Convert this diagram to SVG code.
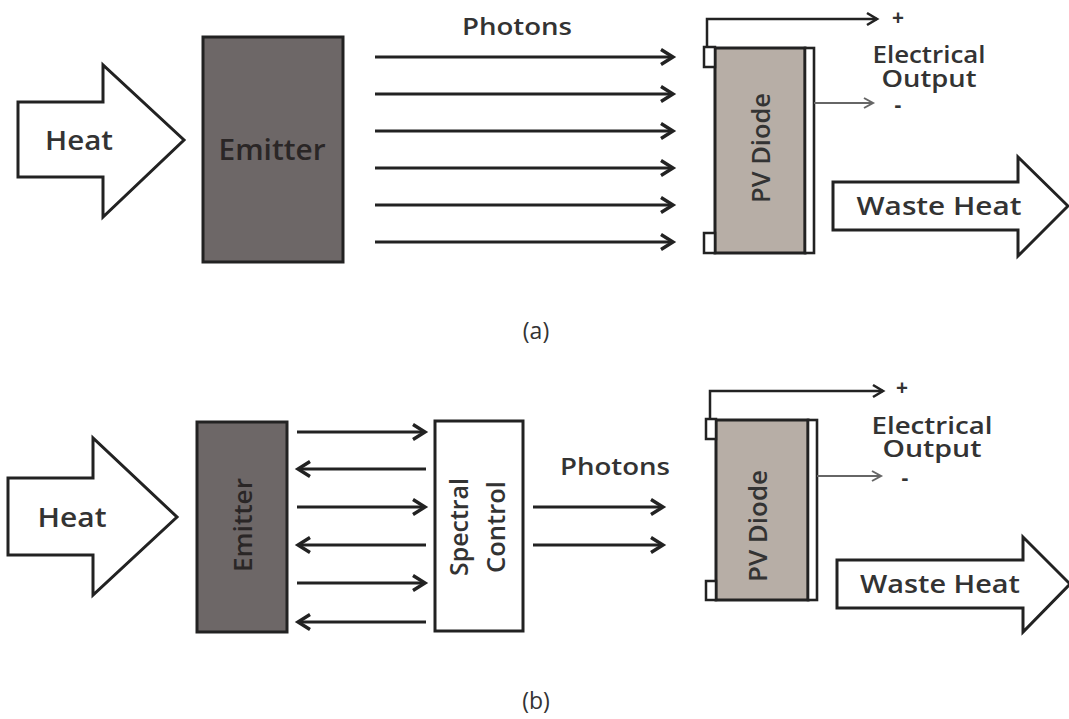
<svg xmlns="http://www.w3.org/2000/svg" width="1069" height="719" viewBox="0 0 1069 719">
<defs>
<marker id="ah" markerUnits="userSpaceOnUse" markerWidth="20" markerHeight="20" refX="14" refY="10" orient="auto">
<path d="M2,2.5 L14,10 L2,17.5" fill="none" stroke="#222" stroke-width="3.4" stroke-linejoin="miter"/>
</marker>
<marker id="ahs" markerUnits="userSpaceOnUse" markerWidth="20" markerHeight="20" refX="14" refY="10" orient="auto">
<path d="M5,5 L14,10 L5,15" fill="none" stroke="#666" stroke-width="2"/>
</marker>
<marker id="ahw" markerUnits="userSpaceOnUse" markerWidth="20" markerHeight="20" refX="14" refY="10" orient="auto">
<path d="M4,4 L14,10 L4,16" fill="none" stroke="#222" stroke-width="2.6"/>
</marker>
</defs>
<style>
.big{fill:#fff;stroke:#222;stroke-width:3;stroke-linejoin:miter}
.emit{fill:#6d6767;stroke:#222;stroke-width:3}
.pv{fill:#b7aea6;stroke:#222;stroke-width:3}
.strip{fill:#fff;stroke:#222;stroke-width:2.6}
.tab{fill:#fff;stroke:#222;stroke-width:2.5}
.ph{stroke:#222;stroke-width:3.2;fill:none;marker-end:url(#ah)}
.wire{stroke:#222;stroke-width:2.5;fill:none;marker-end:url(#ahw)}
.neg{stroke:#666;stroke-width:1.8;fill:none;marker-end:url(#ahs)}
text{font-family:"Open Sans","Liberation Sans",sans-serif;font-weight:600;fill:#333}
.cap{font-weight:400;font-size:23px;fill:#333}
.sign{font-size:21px;font-weight:700}
</style>
<rect width="1069" height="719" fill="#fff"/>

<!-- (a) -->
<g id="heat-a">
<polygon class="big" points="18,102 103,102 103,65 184,140 103,217 103,177 18,177"/>
<text x="79" y="150" font-size="27" text-anchor="middle" textLength="68" lengthAdjust="spacingAndGlyphs">Heat</text>
</g>
<g id="emitter-a">
<rect class="emit" x="203" y="37" width="140" height="225"/>
<text x="272" y="160" font-size="28" text-anchor="middle" textLength="107" lengthAdjust="spacingAndGlyphs" style="fill:#2a2626">Emitter</text>
</g>
<g id="photons-label-a">
<text x="517" y="35" font-size="24" text-anchor="middle" textLength="110" lengthAdjust="spacingAndGlyphs">Photons</text>
</g>
<g id="pv-a">
<rect class="pv" x="715" y="48" width="90" height="205"/>
<rect class="strip" x="805" y="48" width="9" height="205"/>
<rect class="tab" x="704" y="47" width="11" height="20"/>
<rect class="tab" x="704" y="233" width="11" height="20"/>
<text transform="translate(770,148) rotate(-90)" font-size="26" text-anchor="middle" textLength="110" lengthAdjust="spacingAndGlyphs">PV Diode</text>
</g>
<g id="output-a">
<text class="sign" x="898" y="25" text-anchor="middle">+</text>
<text font-size="23" text-anchor="middle"><tspan x="929" y="63" textLength="113" lengthAdjust="spacingAndGlyphs">Electrical</tspan><tspan x="929" y="87" textLength="95" lengthAdjust="spacingAndGlyphs">Output</tspan></text>
<text class="sign" x="898" y="112" text-anchor="middle">-</text>
</g>
<g id="waste-a">
<polygon class="big" points="833,182 1018,182 1018,157 1068,206 1018,256 1018,230 833,230"/>
<text x="939" y="215" font-size="25" text-anchor="middle" textLength="165" lengthAdjust="spacingAndGlyphs">Waste Heat</text>
</g>
<g id="caption-a"><text class="cap" x="536" y="339" text-anchor="middle">(a)</text></g>

<!-- (b) -->
<g id="heat-b">
<polygon class="big" points="8,478 93,478 93,438 177,517 93,595 93,555 8,555"/>
<text x="72" y="527" font-size="27" text-anchor="middle" textLength="69" lengthAdjust="spacingAndGlyphs">Heat</text>
</g>
<g id="emitter-b">
<rect class="emit" x="197" y="422" width="90" height="210"/>
<text transform="translate(252,525) rotate(-90)" font-size="26" text-anchor="middle" textLength="94" lengthAdjust="spacingAndGlyphs" style="fill:#2a2626">Emitter</text>
</g>
<g id="spectral-b">
<rect class="big" x="435" y="421" width="88" height="210"/>
<text transform="translate(468,527) rotate(-90)" font-size="26" text-anchor="middle" textLength="98" lengthAdjust="spacingAndGlyphs">Spectral</text>
<text transform="translate(505,527) rotate(-90)" font-size="26" text-anchor="middle" textLength="92" lengthAdjust="spacingAndGlyphs">Control</text>
</g>
<g id="photons-label-b">
<text x="615" y="475" font-size="24" text-anchor="middle" textLength="110" lengthAdjust="spacingAndGlyphs">Photons</text>
</g>
<g id="pv-b">
<rect class="pv" x="716" y="420" width="92" height="180"/>
<rect class="strip" x="808" y="420" width="9" height="180"/>
<rect class="tab" x="706" y="419" width="10" height="20"/>
<rect class="tab" x="706" y="581" width="10" height="19"/>
<text transform="translate(767,526) rotate(-90)" font-size="26" text-anchor="middle" textLength="112" lengthAdjust="spacingAndGlyphs">PV Diode</text>
</g>
<g id="output-b">
<text class="sign" x="902" y="395" text-anchor="middle">+</text>
<text font-size="23" text-anchor="middle"><tspan x="932" y="434" textLength="121" lengthAdjust="spacingAndGlyphs">Electrical</tspan><tspan x="932" y="457" textLength="99" lengthAdjust="spacingAndGlyphs">Output</tspan></text>
<text class="sign" x="905" y="485" text-anchor="middle">-</text>
</g>
<g id="waste-b">
<polygon class="big" points="837,560 1023,560 1023,537 1070,584 1023,632 1023,608 837,608"/>
<text x="940" y="593" font-size="25" text-anchor="middle" textLength="160" lengthAdjust="spacingAndGlyphs">Waste Heat</text>
</g>
<g id="caption-b"><text class="cap" x="536" y="709" text-anchor="middle">(b)</text></g>

<g id="connectors">
<line class="ph" x1="375" y1="57" x2="673" y2="57"/>
<line class="ph" x1="375" y1="94" x2="673" y2="94"/>
<line class="ph" x1="375" y1="131" x2="673" y2="131"/>
<line class="ph" x1="375" y1="168" x2="673" y2="168"/>
<line class="ph" x1="375" y1="205" x2="673" y2="205"/>
<line class="ph" x1="375" y1="242" x2="673" y2="242"/>
<polyline class="wire" points="707,47 707,19 877,19"/>
<line class="neg" x1="814" y1="103" x2="873" y2="103"/>

<line class="ph" x1="297" y1="432" x2="425" y2="432"/>
<line class="ph" x1="426" y1="469" x2="298" y2="469"/>
<line class="ph" x1="297" y1="507" x2="425" y2="507"/>
<line class="ph" x1="426" y1="545" x2="298" y2="545"/>
<line class="ph" x1="297" y1="583" x2="425" y2="583"/>
<line class="ph" x1="426" y1="622" x2="298" y2="622"/>
<line class="ph" x1="533" y1="507" x2="663" y2="507"/>
<line class="ph" x1="533" y1="545" x2="663" y2="545"/>
<polyline class="wire" points="710,419 710,391 883,391"/>
<line class="neg" x1="817" y1="476" x2="881" y2="476"/>
</g>
</svg>
